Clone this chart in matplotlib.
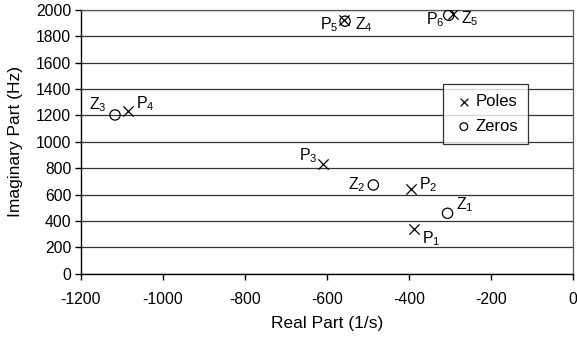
import matplotlib
matplotlib.use("Agg")
import matplotlib.pyplot as plt

plt.rcParams["font.family"] = ["Liberation Sans", "DejaVu Sans"]
plt.rcParams["mathtext.fontset"] = "custom"
plt.rcParams["mathtext.rm"] = "Liberation Sans"
plt.rcParams["mathtext.it"] = "Liberation Sans"
plt.rcParams["axes.unicode_minus"] = False

# ---- data ----
pole_names = ["P1", "P2", "P3", "P4", "P5", "P6"]
pole_re = [-387, -395, -609, -1085, -558, -293]
pole_im = [337, 640, 832, 1234, 1922, 1972]

zero_names = ["Z1", "Z2", "Z3", "Z4", "Z5"]
zero_re = [-306, -487, -1117, -556, -303]
zero_im = [458, 673, 1204, 1915, 1960]

# label offsets in pixels (dx, dy, ha)
pole_offsets = [(8, -9, "left"), (8, 5, "left"), (-6, 8, "right"), (8, 7, "left"),
                (-6, -4, "right"), (-8, -6, "right")]
zero_offsets = [(8, 9, "left"), (-8, 0, "right"), (-8, 10, "right"), (10, -3, "left"),
                (12, -3, "left")]

fig = plt.figure(figsize=(5.77, 3.4), dpi=100)
ax = fig.add_axes([81 / 577, 1 - 273.7 / 340, 492 / 577, 263.7 / 340])

ax.scatter(pole_re, pole_im, marker="x", s=55, c="black", linewidths=0.9,
           label="Poles", zorder=3)
ax.scatter(zero_re, zero_im, marker="o", s=55, facecolors="none", edgecolors="black",
           linewidths=0.9, label="Zeros", zorder=3)


def sub_label(name):
    return r"$\mathregular{%s_{%s}}$" % (name[0], name[1:])


px = 0.72  # points per pixel at 100 dpi
for names, xs, ys, offs in [(pole_names, pole_re, pole_im, pole_offsets),
                            (zero_names, zero_re, zero_im, zero_offsets)]:
    for n, x, y, (dx, dy, ha) in zip(names, xs, ys, offs):
        ax.annotate(sub_label(n), (x, y), xytext=(dx * px, dy * px),
                    textcoords="offset points", ha=ha, va="center", fontsize=11.5)

ax.set_xlim(-1200, 0)
ax.set_ylim(0, 2000)
ax.set_xticks(range(-1200, 1, 200))
ax.set_yticks(range(0, 2001, 200))
ax.yaxis.grid(True, color="#333333", linewidth=0.9)
ax.set_axisbelow(True)
for s in ["top", "right"]:
    ax.spines[s].set_color("#555555")
    ax.spines[s].set_linewidth(0.9)
for s in ["left", "bottom"]:
    ax.spines[s].set_linewidth(1.0)
ax.tick_params(direction="out", length=4, width=1, labelsize=11.3, pad=3)
ax.tick_params(axis="x", pad=9)

ax.set_xlabel("Real Part (1/s)", fontsize=12.5, labelpad=7)
ax.set_ylabel("Imaginary Part (Hz)", fontsize=12.5, labelpad=9)

leg = ax.legend(loc="upper left", bbox_to_anchor=(362 / 492, 1 - 74 / 263.7),
                frameon=True, fancybox=False, edgecolor="black", fontsize=12,
                handletextpad=0.05, borderpad=0.6, labelspacing=0.6,
                handlelength=1.3, markerscale=0.75, borderaxespad=0)
leg.get_frame().set_linewidth(0.9)

fig.savefig("out.png", dpi=100)
